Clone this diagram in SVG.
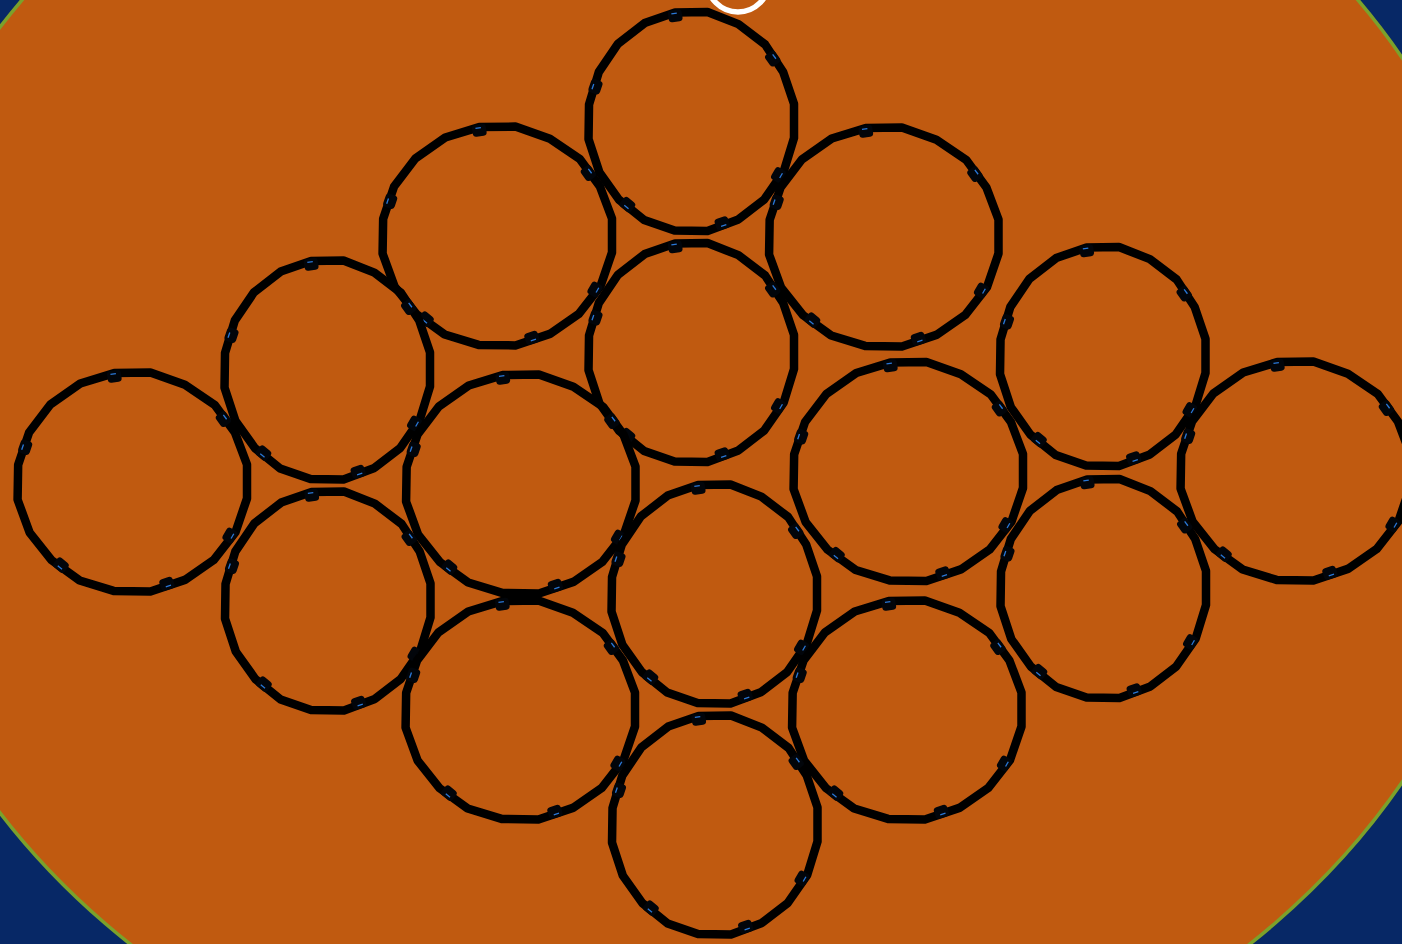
<svg xmlns="http://www.w3.org/2000/svg" xmlns:xlink="http://www.w3.org/1999/xlink" width="1402" height="944" viewBox="0 0 1402 944">
<style>
.ring{fill:none;stroke:#000;stroke-width:8.5;stroke-linejoin:round;vector-effect:non-scaling-stroke}
.tabbox{fill:#02050a}
.tabhl{stroke:#2a78d8;stroke-width:1.3;fill:none}
</style>
<defs>
<path id="rs" class="ring" d="M0.16,-0.995 L0.46,-0.885 L0.72,-0.70 L0.895,-0.45 L1.0,-0.16 L1.0,0.15 L0.90,0.455 L0.71,0.71 L0.46,0.89 L0.16,0.995 L-0.16,0.99 L-0.455,0.895 L-0.70,0.71 L-0.89,0.46 L-0.995,0.16 L-0.99,-0.155 L-0.895,-0.45 L-0.71,-0.705 L-0.45,-0.895 L-0.155,-0.99 Z"/>
<g id="tab"><rect class="tabbox" x="-7" y="-6" width="14" height="12" rx="3.5"/><path class="tabhl" d="M-3.5,-2.5 L2,-2.5"/></g>
<g id="tabsN">
<use href="#tab" transform="translate(-95.5,-34.8) rotate(-71)"/>
<use href="#tab" transform="translate(-15.8,-105.7) rotate(-9)"/>
<use href="#tab" transform="translate(81.7,-62.9) rotate(54)"/>
<use href="#tab" transform="translate(87.5,53.5) rotate(120)"/>
<use href="#tab" transform="translate(31.2,101.8) rotate(162)"/>
<use href="#tab" transform="translate(-63.6,83.1) rotate(219)"/>
</g>
<g id="tabsW">
<use href="#tab" transform="translate(-106.8,-34.8) rotate(-71)"/>
<use href="#tab" transform="translate(-17.7,-105.7) rotate(-9)"/>
<use href="#tab" transform="translate(91.4,-62.9) rotate(54)"/>
<use href="#tab" transform="translate(97.9,53.5) rotate(120)"/>
<use href="#tab" transform="translate(34.9,101.8) rotate(162)"/>
<use href="#tab" transform="translate(-71.1,83.1) rotate(219)"/>
</g>
<g id="ringN"><use href="#rs" transform="scale(103,110)"/><use href="#tabsN"/></g>
<g id="ringW"><use href="#rs" transform="scale(115,110)"/><use href="#tabsW"/></g>
</defs>
<rect x="0" y="0" width="1402" height="944" fill="#072866"/>
<ellipse cx="690" cy="420" rx="827" ry="712" fill="#C05A10" stroke="#7BA12B" stroke-width="3.5"/>
<circle cx="738" cy="-19" r="31" fill="none" stroke="#ffffff" stroke-width="5.5"/>
<g id="rings">
<g id="ring1"><use href="#ringN" transform="translate(691,121.5)"/></g>
<g id="ring2"><use href="#ringW" transform="translate(497,236)"/></g>
<g id="ring3"><use href="#ringW" transform="translate(883.5,237)"/></g>
<g id="ring4"><use href="#ringN" transform="translate(691,352.5)"/></g>
<g id="ring5"><use href="#ringN" transform="translate(327,370)"/></g>
<g id="ring6"><use href="#ringW" transform="translate(132,482)"/></g>
<g id="ring7"><use href="#ringW" transform="translate(520.5,484)"/></g>
<g id="ring8"><use href="#ringW" transform="translate(908,471.5)"/></g>
<g id="ring9"><use href="#ringN" transform="translate(1102.5,356.5)"/></g>
<g id="ring10"><use href="#ringW" transform="translate(1295,471)"/></g>
<g id="ring11"><use href="#ringN" transform="translate(327.5,601)"/></g>
<g id="ring12"><use href="#ringN" transform="translate(714,594)"/></g>
<g id="ring13"><use href="#ringW" transform="translate(520,710)"/></g>
<g id="ring14"><use href="#ringW" transform="translate(906.5,710)"/></g>
<g id="ring15"><use href="#ringN" transform="translate(1103,588.5)"/></g>
<g id="ring16"><use href="#ringN" transform="translate(714.5,825)"/></g>
</g>
</svg>
